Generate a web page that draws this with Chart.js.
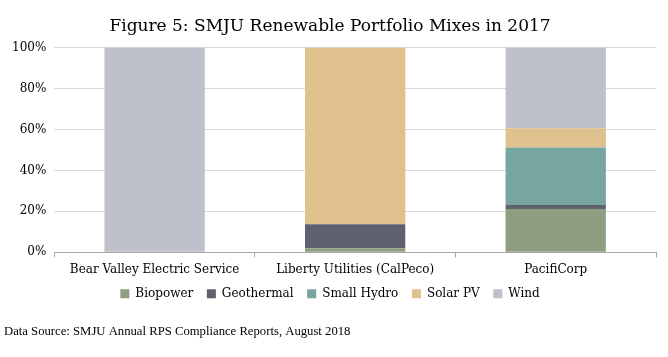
<!DOCTYPE html>
<html>
<head>
<meta charset="utf-8">
<script src="https://cdn.jsdelivr.net/npm/chart.js@4"></script>
<style>
html,body{margin:0;padding:0;background:#fff;}
#wrap{width:668px;height:357px;position:relative;}
</style>
</head>
<body>
<div id="wrap"><canvas id="c" width="668" height="357"></canvas></div>
<script>
const categories = ["Bear Valley Electric Service", "Liberty Utilities (CalPeco)", "PacifiCorp"];
const biopower   = [0, 2.0, 21.1];
const geothermal = [0, 11.7, 2.0];
const smallHydro = [0, 0, 28.1];
const solarPV    = [0, 86.3, 9.3];
const wind       = [100, 0, 39.5];
const yTicks = [0, 20, 40, 60, 80, 100];

const serif = "'DejaVu Serif', serif";
const ds = (label, data, color) => ({label, data, backgroundColor: color, borderWidth: 0,
  barPercentage: 0.5, categoryPercentage: 1.0});

new Chart(document.getElementById('c'), {
  type: 'bar',
  data: {
    labels: categories,
    datasets: [
      ds('Biopower', biopower, '#8f9d81'),
      ds('Geothermal', geothermal, '#5f6170'),
      ds('Small Hydro', smallHydro, '#78a5a0'),
      ds('Solar PV', solarPV, '#dfc18d'),
      ds('Wind', wind, '#bec0ca')
    ]
  },
  options: {
    responsive: false,
    animation: false,
    layout: {padding: {left: 4, right: 12, top: 0, bottom: 0}},
    plugins: {
      tooltip: {enabled: false},
      title: {
        display: true,
        text: 'Figure 5: SMJU Renewable Portfolio Mixes in 2017',
        color: '#000',
        font: {family: serif, size: 17, weight: 'normal'},
        padding: {top: 16, bottom: 11}
      },
      subtitle: {
        display: true,
        position: 'bottom',
        align: 'start',
        text: 'Data Source: SMJU Annual RPS Compliance Reports, August 2018',
        color: '#000',
        font: {family: "'Liberation Serif', serif", size: 12.7, weight: 'normal'},
        padding: {top: 14, bottom: 18}
      },
      legend: {
        position: 'bottom',
        labels: {
          color: '#000',
          boxWidth: 9, boxHeight: 9,
          padding: 6,
          font: {family: serif, size: 12},
          generateLabels: (chart) => {
            const items = Chart.defaults.plugins.legend.labels.generateLabels(chart);
            items.forEach((it, i) => { if (i < items.length - 1) it.text = it.text + '  '; });
            return items;
          }
        }
      }
    },
    scales: {
      x: {
        stacked: true,
        grid: {display: true, drawOnChartArea: false, drawTicks: true, tickLength: 5, color: '#a6a6a6', offset: true},
        border: {display: true, color: '#a6a6a6'},
        ticks: {color: '#000', font: {family: serif, size: 12}, padding: 5, maxRotation: 0}
      },
      y: {
        stacked: true,
        min: 0, max: 100,
        afterBuildTicks: (axis) => { axis.ticks = yTicks.map(v => ({value: v})); },
        grid: {color: '#d9d9d9', drawTicks: false},
        border: {display: false},
        ticks: {color: '#000', font: {family: serif, size: 12}, padding: 8, callback: v => v + '%'}
      }
    }
  }
});
</script>
</body>
</html>
